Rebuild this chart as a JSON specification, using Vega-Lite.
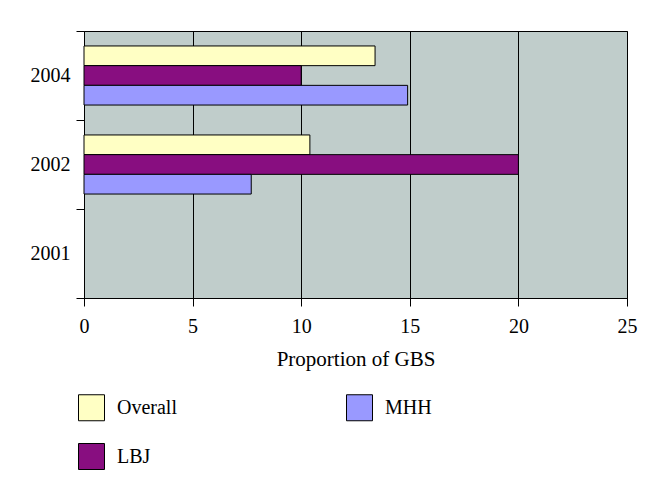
{
  "$schema": "https://vega.github.io/schema/vega-lite/v6.json",
  "width": 543,
  "height": 267,
  "autosize": {"type": "none"},
  "padding": {"left": 84, "top": 31, "right": 28, "bottom": 195},
  "background": "white",
  "data": {"values": [
    {"year": "2004", "group": "Overall", "value": 13.4},
    {"year": "2004", "group": "LBJ", "value": 10},
    {"year": "2004", "group": "MHH", "value": 14.9},
    {"year": "2002", "group": "Overall", "value": 10.4},
    {"year": "2002", "group": "LBJ", "value": 20},
    {"year": "2002", "group": "MHH", "value": 7.7}
  ]},
  "mark": {"type": "bar", "stroke": "black", "strokeWidth": 1},
  "encoding": {
    "y": {
      "field": "year", "type": "nominal",
      "scale": {"domain": ["2004", "2002", "2001"], "paddingInner": 0, "paddingOuter": 0},
      "axis": {
        "title": null, "tickBand": "extent", "domainColor": "black", "tickColor": "black",
        "tickSize": 8, "labelFont": "Liberation Serif", "labelFontSize": 20, "labelColor": "black",
        "labelPadding": 6, "grid": false
      }
    },
    "yOffset": {
      "field": "group", "type": "nominal",
      "sort": ["Overall", "LBJ", "MHH"],
      "scale": {"paddingInner": 0, "paddingOuter": 0.76}
    },
    "x": {
      "field": "value", "type": "quantitative",
      "scale": {"domain": [0, 25], "nice": false},
      "axis": {
        "title": "Proportion of GBS", "values": [0, 5, 10, 15, 20, 25],
        "grid": true, "gridColor": "black", "gridOpacity": 1, "gridWidth": 1,
        "domainColor": "black", "tickColor": "black", "tickSize": 8, "labelFlush": false,
        "labelFont": "Liberation Serif", "labelFontSize": 20, "labelColor": "black", "labelPadding": 10,
        "titleFont": "Liberation Serif", "titleFontSize": 21, "titleFontWeight": "normal", "titleColor": "black",
        "titlePadding": 12
      }
    },
    "color": {
      "field": "group", "type": "nominal",
      "scale": {"domain": ["Overall", "LBJ", "MHH"], "range": ["#FFFFC4", "#880E80", "#9999FF"]},
      "legend": {
        "title": null, "orient": "none", "legendX": -6, "legendY": 363, "columns": 2,
        "values": ["Overall", "LBJ", "MHH"],
        "columnPadding": 167, "rowPadding": 18,
        "symbolType": "square", "symbolSize": 676, "symbolStrokeColor": "black", "symbolStrokeWidth": 1,
        "labelFont": "Liberation Serif", "labelFontSize": 20, "labelColor": "black", "labelOffset": 12,
        "labelLimit": 200
      }
    }
  },
  "config": {
    "view": {"fill": "#C0CDCB", "stroke": "black", "strokeWidth": 1}
  }
}
